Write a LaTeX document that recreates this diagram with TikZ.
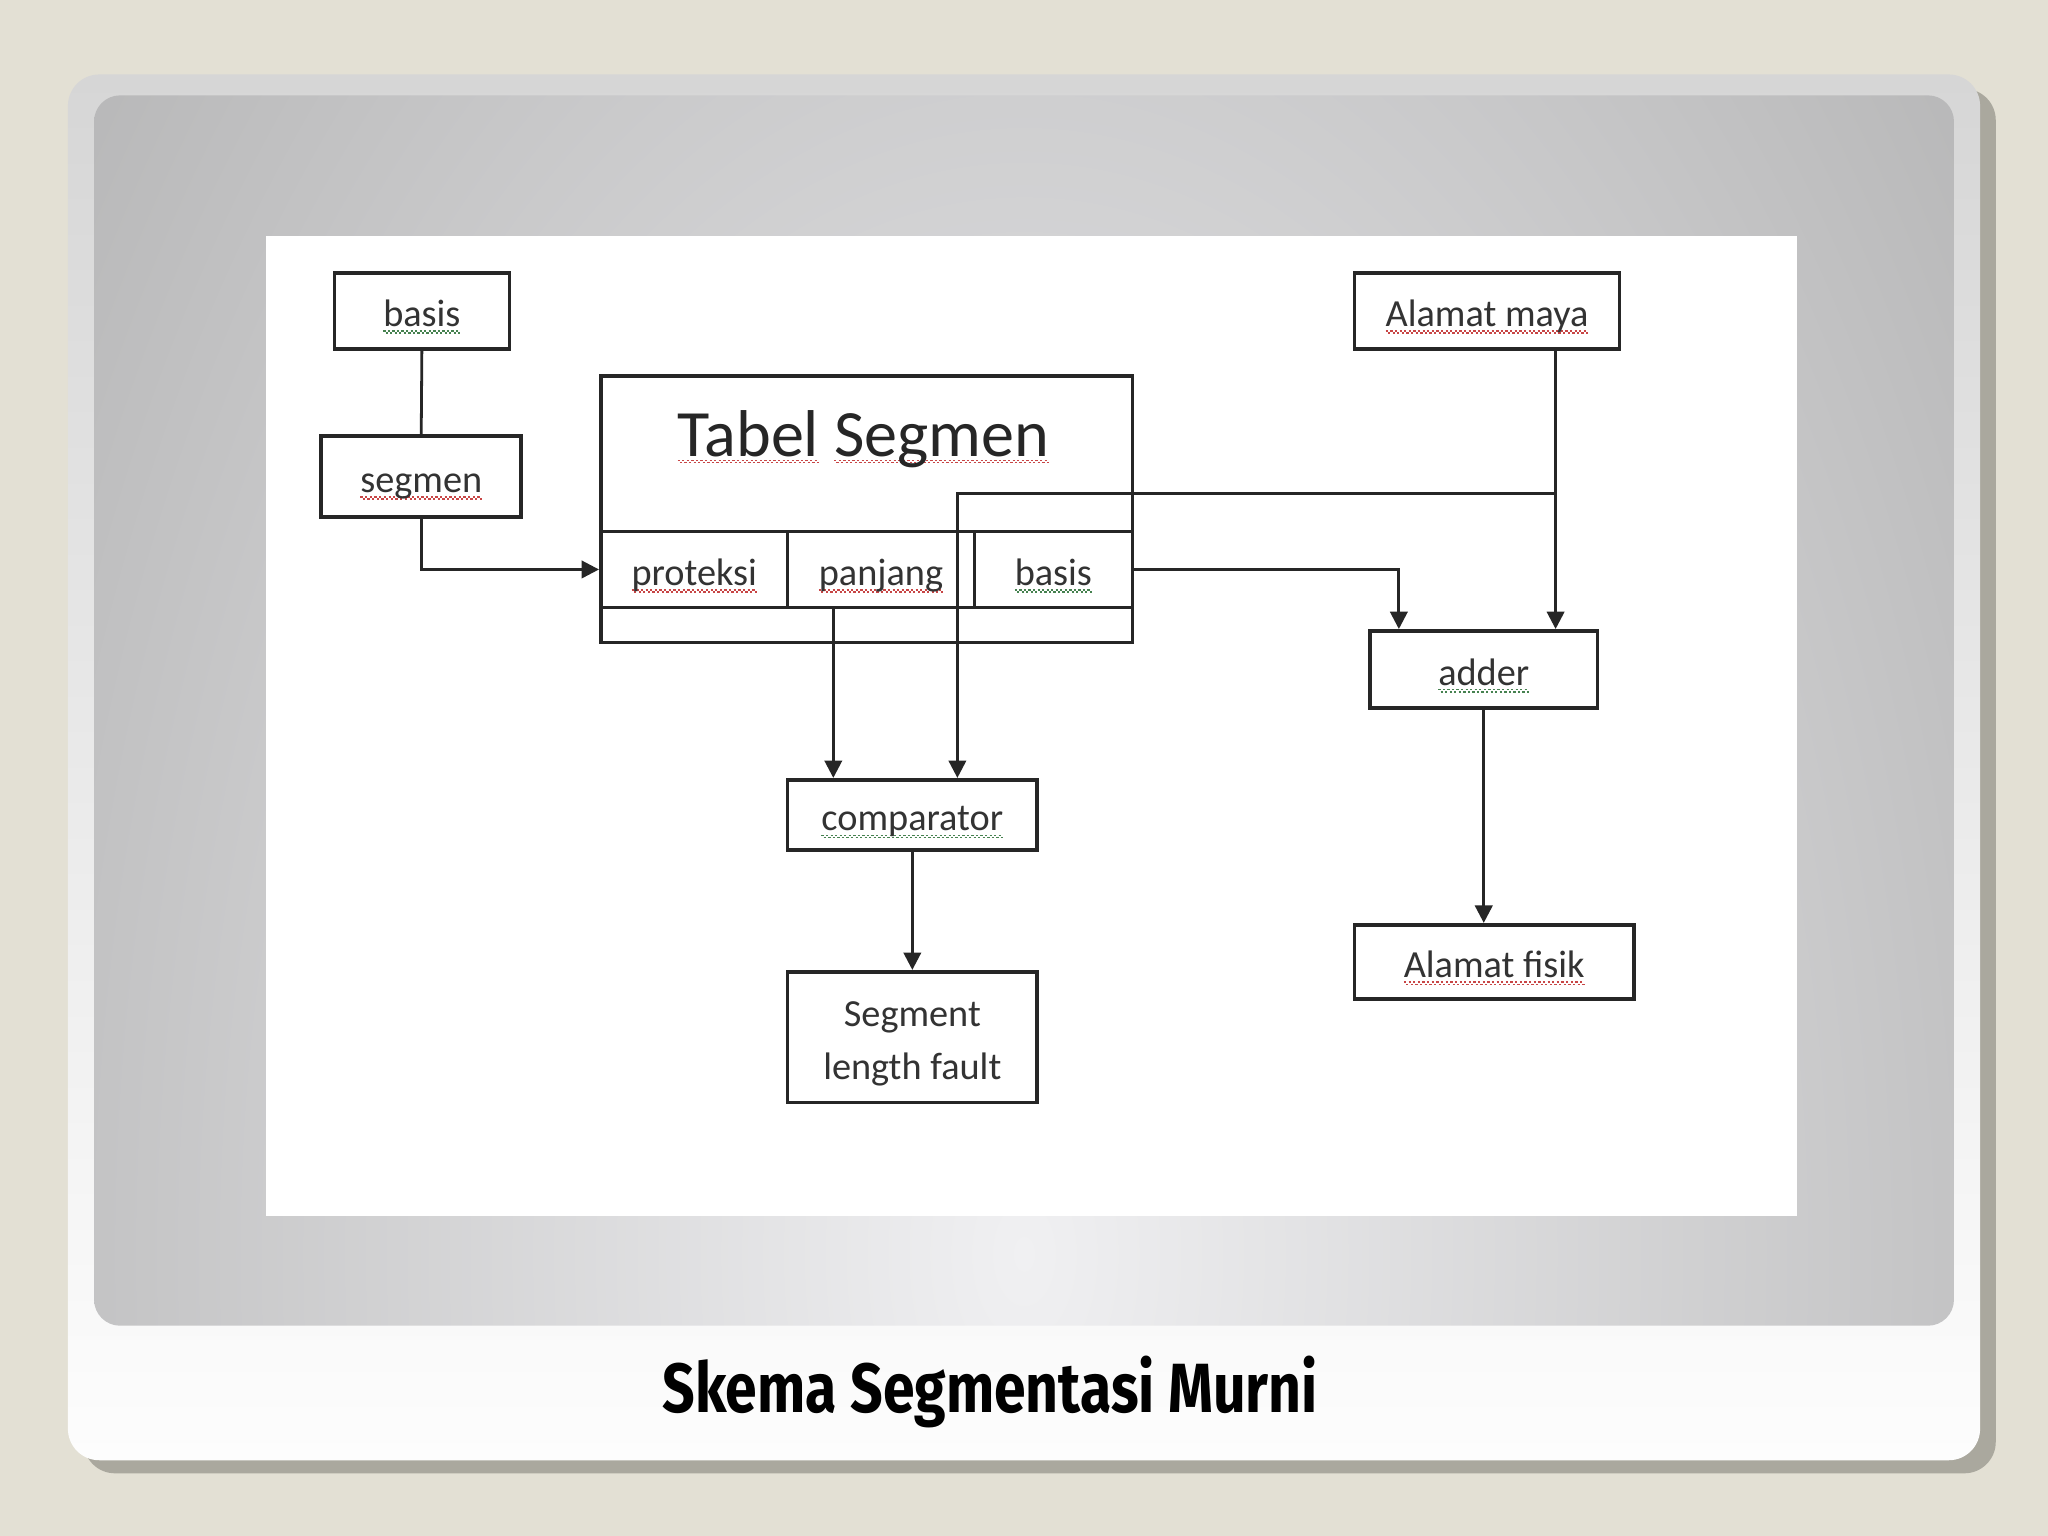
\documentclass[tikz,border=0pt]{standalone}
\usepackage{fontspec}
\usepackage{graphicx}
\setmainfont{Carlito}
\newfontfamily\judulfont{Fira Sans}
\usetikzlibrary{arrows.meta}

\definecolor{latar}{RGB}{227,224,212}
\definecolor{bayang}{RGB}{170,168,158}
\definecolor{kartuatas}{RGB}{214,214,214}
\definecolor{kartubawah}{RGB}{253,253,253}
\definecolor{abuterang}{RGB}{240,240,242}
\definecolor{abugelap}{RGB}{145,145,145}
\definecolor{ejamerah}{RGB}{200,70,70}
\definecolor{ejahijau}{RGB}{70,130,80}

\pgfdeclareradialshading{panel}{\pgfpointorigin}{color(0bp)=(abuterang); color(50bp)=(abugelap)}

\newsavebox\kotakteks
\newcommand\salah[2]{\sbox\kotakteks{#2}%
  \rlap{\textcolor{#1}{\hbox to \wd\kotakteks{\xleaders\hbox{\rule[-3pt]{1.3pt}{0.9pt}\rule[-4.2pt]{1.3pt}{0.9pt}}\hfill}}}%
  \usebox\kotakteks}
\newcommand\salahmerah[1]{\salah{ejamerah}{#1}}
\newcommand\salahhijau[1]{\salah{ejahijau}{#1}}

\tikzset{
  kotak/.style={draw=black!85, line width=2.1pt, fill=white, inner sep=0pt,
    text height=20pt, text depth=1.8pt,
    font=\fontsize{22}{30.75}\selectfont, text=black!80},
  garis/.style={draw=black!85, line width=1.6pt},
  panah/.style={garis, -{Triangle[length=10pt,width=10pt]}},
}

\begin{document}
\begin{tikzpicture}[x=0.75pt,y=0.75pt,yscale=-1]
\useasboundingbox (0,0) rectangle (1568,1176);

%Latar dan kartu
\fill[latar] (0,0) rectangle (1568,1176);
\fill[bayang, rounded corners=18pt] (64,68) rectangle (1528,1128);
\shade[top color=kartuatas, bottom color=kartubawah, middle color=kartubawah!50!kartuatas, rounded corners=18pt] (52,57) rectangle (1516,1118);
\begin{scope}
  \clip[rounded corners=15pt] (72,73) rectangle (1496,1015);
  \shade[shading=panel] (24,-300) rectangle (1544,2220);
\end{scope}
\fill[white] (204,181) rectangle (1376,931);

%Kotak kiri
\node[kotak, minimum width=100.5pt, minimum height=43.5pt] (basis) at (323,238) {\salahhijau{basis}};
\node[kotak, minimum width=114.75pt, minimum height=46.5pt] (segmen) at (322.5,365) {\salahmerah{segmen}};

%Tabel segmen
\node[kotak, minimum width=305.25pt, minimum height=153pt] (tabel) at (663.5,390) {};
\node[font=\fontsize{38}{44}\selectfont, text=black!85] (judultabel) at (661,336) {\salahmerah{Tabel} \salahmerah{Segmen}};
\node[kotak, minimum width=107.25pt, minimum height=43.5pt] (proteksi) at (531.5,436) {\salahmerah{proteksi}};
\node[kotak, minimum width=107.25pt, minimum height=43.5pt] (panjang) at (674.5,436) {\salahmerah{panjang}};
\node[kotak, minimum width=90.75pt, minimum height=43.5pt] (basisb) at (806.5,436) {\salahhijau{basis}};

%Kotak kanan
\node[kotak, minimum width=152.25pt, minimum height=43.5pt] (maya) at (1138.5,238) {\salahmerah{Alamat maya}};
\node[kotak, minimum width=130.5pt, minimum height=44.25pt] (adder) at (1136,512.5) {\salahhijau{adder}};
\node[kotak, minimum width=160.5pt, minimum height=42.75pt] (fisik) at (1144,736.5) {\salahmerah{Alamat fisik}};

%Kotak bawah
\node[kotak, minimum width=143.25pt, minimum height=40.5pt] (comparator) at (698.5,624) {\salahhijau{comparator}};
\node[kotak, minimum width=143.25pt, minimum height=75pt, align=center, text height=50.75pt] (fault) at (698.5,794) {Segment\\length fault};

%Garis
\coordinate (cabang) at (1191,378);
\coordinate (belok) at (733,378);
\coordinate (kirian) at (1071,436);
\coordinate (pj) at (638,465);

\draw[garis] (basis.south) -- (segmen.north);
\draw[panah] (segmen.south) |- (proteksi.west);
\draw[panah] (maya.south -| cabang) -- (adder.north -| cabang);
\draw[panah] (cabang) -- (belok) -- (belok |- comparator.north);
\draw[panah] (basisb.east) -- (kirian) -- (kirian |- adder.north);
\draw[panah] (pj) -- (pj |- comparator.north);
\draw[panah] (comparator.south) -- (fault.north);
\draw[panah] (adder.south) -- (adder.south |- fisik.north);

%Judul
\node[font=\judulfont\bfseries\fontsize{40}{48}\selectfont] (judul) at (758,1066) {\scalebox{0.82}[1]{Skema Segmentasi Murni}};

\end{tikzpicture}
\end{document}
